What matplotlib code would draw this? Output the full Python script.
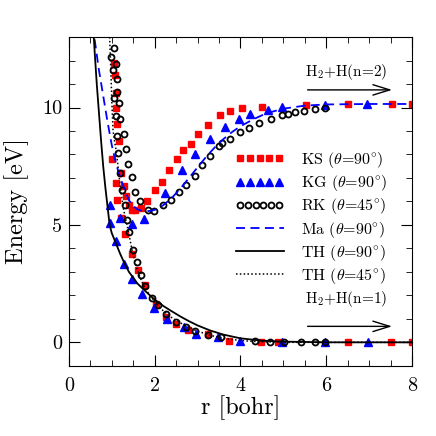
import matplotlib
matplotlib.use('Agg')
import matplotlib.pyplot as plt
from matplotlib.ticker import MultipleLocator
from matplotlib.legend_handler import HandlerLine2D

plt.rcParams['font.family'] = 'cmr10'
plt.rcParams['mathtext.fontset'] = 'cm'
plt.rcParams['axes.unicode_minus'] = False

# KS (theta=90) red squares
ks_r = [1.05, 1.07, 1.09, 1.11, 1.13, 1.17, 1.01, 1.21, 1.09, 1.29, 1.13, 1.34, 1.40, 1.46, 1.54,
        1.67, 1.81, 2.00, 2.16, 2.33, 2.52, 2.67, 2.84, 3.02, 3.24, 3.53, 3.76, 4.03, 4.50, 5.53,
        6.51, 7.53, 8.00,
        1.21, 1.30, 1.46, 1.60, 1.77, 2.04, 2.27, 2.50, 2.77, 3.24, 3.74, 4.48, 4.88, 6.50, 7.50, 8.00]
ks_e = [11.9, 11.4, 10.6, 9.97, 9.31, 8.59, 7.82, 7.22, 6.77, 6.65, 6.05, 6.23, 5.85, 5.62, 5.62,
        5.70, 6.00, 6.47, 6.84, 7.33, 7.81, 8.18, 8.46, 8.89, 9.26, 9.66, 9.83, 9.97, 10.04, 10.11,
        10.14, 10.14, 10.14,
        5.31, 4.63, 3.76, 3.08, 2.42, 1.64, 1.07, 0.79, 0.54, 0.34, 0.06, 0.02, 0.0, 0.0, 0.0, 0.0]

# KG (theta=90) blue triangles
kg_r = [0.96, 0.96, 1.19, 1.48, 1.75, 2.24, 2.64, 2.95, 3.28, 3.63, 3.96, 4.23, 4.64, 4.98, 5.98, 6.96,
        1.09, 1.28, 1.48, 1.71, 1.98, 2.29, 2.68, 2.97, 3.47, 3.98, 4.97, 5.98, 6.98]
kg_e = [5.85, 5.10, 5.31, 5.03, 5.24, 6.37, 7.35, 8.02, 8.67, 9.17, 9.52, 9.72, 9.90, 10.04, 10.11, 10.14,
        4.32, 3.33, 2.70, 2.06, 1.47, 1.00, 0.65, 0.37, 0.23, 0.06, 0.0, 0.0, 0.0]

# RK (theta=45) open circles
rk_r = [1.06, 0.99, 1.11, 1.02, 1.13, 1.13, 1.06, 1.17, 1.09, 1.20, 1.12, 1.28, 1.15, 1.32, 1.38,
        1.20, 1.46, 1.24, 1.55, 1.30, 1.65, 1.85, 1.99, 2.20, 2.39, 2.56, 2.74, 2.93, 3.10, 3.28,
        3.51, 3.57, 3.76, 3.98, 4.19, 4.44, 4.71, 4.98, 5.12, 5.28, 5.49, 5.73, 5.98,
        1.36, 1.40, 1.50, 1.59, 1.68, 1.77, 1.94, 2.08, 2.27, 2.50, 2.74, 2.95, 3.24, 3.55, 4.33,
        4.70, 5.02, 5.41, 5.73, 5.98]
rk_e = [12.54, 12.14, 11.85, 11.59, 11.21, 10.64, 10.42, 10.18, 9.62, 9.52, 8.80, 8.87, 8.06, 8.25, 7.60,
        7.22, 7.05, 6.50, 6.41, 5.85, 6.00, 5.64, 5.58, 5.83, 6.06, 6.40, 6.70, 7.10, 7.57, 7.95,
        8.35, 8.49, 8.67, 8.95, 9.12, 9.36, 9.52, 9.66, 9.73, 9.80, 9.86, 9.93, 10.00,
        5.21, 4.70, 3.94, 3.43, 2.87, 2.39, 1.89, 1.61, 1.22, 0.86, 0.65, 0.47, 0.30, 0.22, 0.04,
        0.0, 0.0, 0.0, 0.0, 0.0]

# Ma (theta=90) dashed
ma_r = [0.60, 0.70, 0.80, 0.90, 1.00, 1.10, 1.20, 1.30, 1.40, 1.50, 1.60, 1.70, 1.80, 1.90, 2.00, 2.10,
        2.20, 2.40, 2.60, 2.80, 3.00, 3.20, 3.40, 3.60, 3.80, 4.00, 4.30, 4.60, 5.00, 5.50, 6.00, 7.00, 8.00]
ma_e = [12.9, 11.6, 10.5, 9.4, 8.4, 7.6, 7.0, 6.5, 6.05, 5.8, 5.66, 5.6, 5.58, 5.6, 5.64, 5.72,
        5.84, 6.15, 6.55, 7.0, 7.45, 7.9, 8.3, 8.65, 8.95, 9.2, 9.5, 9.75, 9.95, 10.08, 10.13, 10.15, 10.15]

# TH (theta=90) solid
th90_r = [0.55, 0.60, 0.65, 0.70, 0.75, 0.80, 0.85, 0.90, 0.95, 1.00, 1.10, 1.20, 1.30, 1.40, 1.60, 1.80,
          2.00, 2.20, 2.40, 2.60, 2.80, 3.00, 3.30, 3.60, 4.00, 4.50, 5.00, 6.00, 7.00, 8.00]
th90_e = [14.0, 12.4, 11.0, 9.8, 8.6, 7.5, 6.6, 5.8, 5.0, 4.65, 4.2, 3.75, 3.35, 3.0, 2.5, 2.15,
          1.82, 1.55, 1.32, 1.1, 0.9, 0.72, 0.5, 0.33, 0.17, 0.07, 0.03, 0.0, 0.0, 0.0]

# TH (theta=45) dotted
th45_r = [0.95, 0.98, 1.00, 1.03, 1.07, 1.11, 1.15, 1.20, 1.27, 1.33, 1.40, 1.47, 1.55, 1.65, 1.75, 1.85,
          2.00, 2.20, 2.40, 2.70, 3.00, 3.40, 3.80, 4.20, 4.60, 5.00, 6.00, 7.00, 8.00]
th45_e = [13.0, 11.5, 10.3, 9.0, 8.5, 8.1, 7.4, 6.6, 5.7, 5.2, 4.6, 3.95, 3.35, 2.8, 2.4, 2.1,
          1.72, 1.34, 1.05, 0.72, 0.47, 0.25, 0.12, 0.05, 0.02, 0.0, 0.0, 0.0, 0.0]

fig = plt.figure(figsize=(4.36, 4.36), dpi=100)
ax = fig.add_axes([0.158, 0.161, 0.787, 0.754])

l_ks, = ax.plot(ks_r, ks_e, ls='none', marker='s', ms=4.3, color='red', mec='red',
                label='KS ($\\theta$=90$^{\\circ}$)')
l_kg, = ax.plot(kg_r, kg_e, ls='none', marker='^', ms=6, color='blue', mec='blue',
                label='KG ($\\theta$=90$^{\\circ}$)')
l_rk, = ax.plot(rk_r, rk_e, ls='none', marker='o', ms=4.3, mfc='none', mec='black', mew=1.3,
                label='RK ($\\theta$=45$^{\\circ}$)')
l_ma, = ax.plot(ma_r, ma_e, color='blue', ls=(0, (5, 3)), lw=1.3, label='Ma ($\\theta$=90$^{\\circ}$)')
l_t9, = ax.plot(th90_r, th90_e, color='black', lw=1.3, label='TH ($\\theta$=90$^{\\circ}$)')
l_t4, = ax.plot(th45_r, th45_e, color='black', ls=(0, (1, 1.5)), lw=1.1,
                label='TH ($\\theta$=45$^{\\circ}$)')

ax.legend(handles=[l_ks, l_kg, l_rk, l_ma, l_t9, l_t4], loc='upper right',
          bbox_to_anchor=(0.97, 0.70), frameon=False, fontsize=11.5, handlelength=3.0,
          labelspacing=0.2, handletextpad=1.1,
          handler_map={l_ks: HandlerLine2D(numpoints=5), l_kg: HandlerLine2D(numpoints=5),
                       l_rk: HandlerLine2D(numpoints=6)})

arrow = dict(arrowstyle='->,head_length=0.55,head_width=0.17', lw=1.0, color='black',
             mutation_scale=22)
ax.text(5.5, 11.53, 'H$_2$+H(n=2)', fontsize=11, va='center')
ax.annotate('', xy=(7.6, 10.75), xytext=(5.5, 10.75), arrowprops=arrow)
ax.text(5.5, 1.85, 'H$_2$+H(n=1)', fontsize=11, va='center')
ax.annotate('', xy=(7.6, 0.68), xytext=(5.5, 0.68), arrowprops=arrow)

ax.set_xlim(0, 8)
ax.set_ylim(-1, 13)
ax.xaxis.set_major_locator(MultipleLocator(2))
ax.xaxis.set_minor_locator(MultipleLocator(0.5))
ax.yaxis.set_major_locator(MultipleLocator(5))
ax.yaxis.set_minor_locator(MultipleLocator(1))
ax.tick_params(which='both', direction='in', top=True, right=True, labelsize=14.5)
ax.tick_params(which='major', length=8)
ax.tick_params(which='minor', length=4)
ax.tick_params(axis='x', which='major', pad=8)
ax.tick_params(axis='y', which='major', pad=5)
ax.set_xlabel('r [bohr]', fontsize=17.5, labelpad=0)
ax.set_ylabel('Energy [eV]', fontsize=17.5, labelpad=9)

fig.savefig('out.png', dpi=100)
